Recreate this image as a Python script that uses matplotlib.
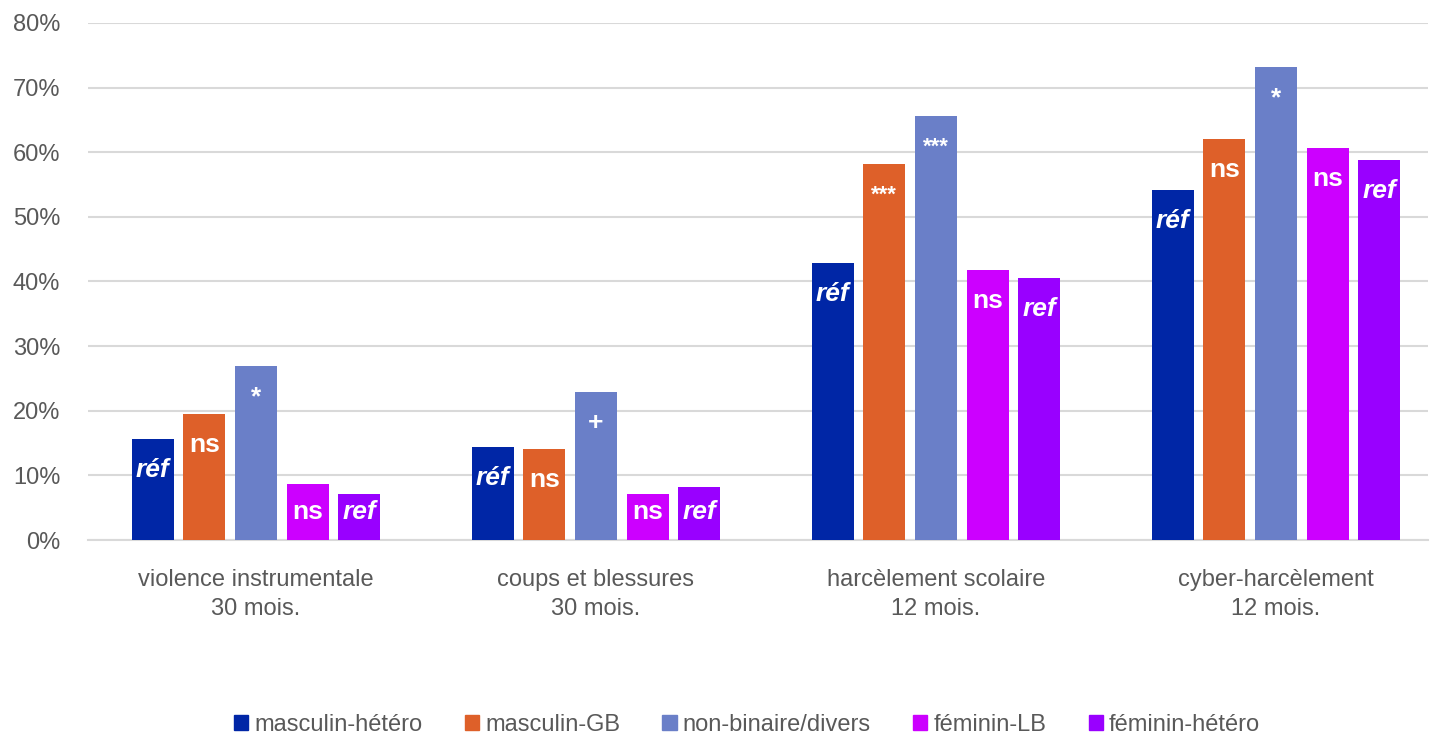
import matplotlib
matplotlib.use("Agg")
import matplotlib.pyplot as plt
from matplotlib.patches import Patch
import numpy as np

categories = ["violence instrumentale\n30 mois.", "coups et blessures\n30 mois.",
              "harcèlement scolaire\n12 mois.", "cyber-harcèlement\n12 mois."]
series = ["masculin-hétéro", "masculin-GB", "non-binaire/divers", "féminin-LB", "féminin-hétéro"]
masc_hetero = [15.6, 14.4, 42.9, 54.2]
masc_gb = [19.5, 14.1, 58.2, 62.1]
non_binaire = [26.9, 22.9, 65.6, 73.2]
fem_lb = [8.7, 7.1, 41.8, 60.7]
fem_hetero = [7.1, 8.2, 40.6, 58.8]
labels_mh = ["réf", "réf", "réf", "réf"]
labels_mgb = ["ns", "ns", "***", "ns"]
labels_nb = ["*", "+", "***", "*"]
labels_flb = ["ns", "ns", "ns", "ns"]
labels_fh = ["ref", "ref", "ref", "ref"]
yticks = [0, 10, 20, 30, 40, 50, 60, 70, 80]

colors = ["#0026A6", "#DE6029", "#6A7FC8", "#CC00FF", "#9900FF"]
values = [masc_hetero, masc_gb, non_binaire, fem_lb, fem_hetero]
labels = [labels_mh, labels_mgb, labels_nb, labels_flb, labels_fh]

plt.rcParams['font.family'] = ['Liberation Sans', 'DejaVu Sans']
gray = "#595959"

fig = plt.figure(figsize=(14.30, 7.34), dpi=100)
ax = fig.add_axes([0.0615, 0.2643, 0.9371, 0.7044])

x = np.arange(len(categories))
pitch = 0.1518
width = 0.1235
for i, (vals, col, labs) in enumerate(zip(values, colors, labels)):
    pos = x + (i - 2) * pitch
    ax.bar(pos, vals, width=width, color=col, zorder=3, label=series[i])
    for p, v, lab in zip(pos, vals, labs):
        y = max(v - 4.8, 4.3)
        italic = lab in ("réf", "ref")
        fs = 16 if "*" in lab and len(lab) > 1 else 19
        ax.text(p, y, lab, ha="center", va="center", color="white",
                fontsize=fs, fontweight="bold",
                fontstyle="italic" if italic else "normal", zorder=4)

ax.set_xlim(-0.494, 3.447)
ax.set_ylim(0, 80)
ax.set_yticks(yticks)
ax.set_yticklabels([f"{t}%" for t in yticks])
ax.set_xticks(x)
ax.set_xticklabels(categories, linespacing=1.38)
ax.tick_params(axis="both", length=0, colors=gray, labelsize=17)
ax.tick_params(axis="x", pad=21)
ax.tick_params(axis="y", pad=20)
ax.grid(axis="y", color="#D9D9D9", linewidth=1.5, zorder=0)
for s in ["top", "right", "left"]:
    ax.spines[s].set_visible(False)
ax.spines["bottom"].set_color("#D9D9D9")
ax.spines["bottom"].set_linewidth(1.5)

handles = [Patch(facecolor=c, edgecolor=c) for c in colors]
leg = fig.legend(handles, series, loc="lower center", bbox_to_anchor=(0.5224, -0.031),
                 ncol=5, frameon=False, fontsize=17, handlelength=0.6, handleheight=0.6,
                 handletextpad=0.25, columnspacing=1.8)
for t in leg.get_texts():
    t.set_color(gray)

fig.savefig("out.png", dpi=100)
